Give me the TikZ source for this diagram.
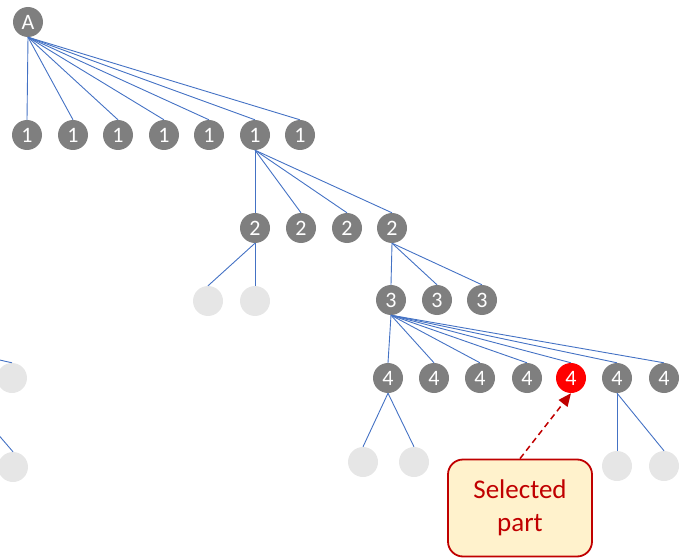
\documentclass[tikz,border=0pt]{standalone}
\usepackage{fontspec}
\setmainfont{Carlito}
\usetikzlibrary{arrows.meta}
\definecolor{edgeblue}{HTML}{4472C4}
\definecolor{nodegray}{HTML}{7F7F7F}
\definecolor{ghostgray}{HTML}{E6E6E6}
\definecolor{calloutred}{HTML}{C00000}
\definecolor{calloutfill}{HTML}{FFF2CC}
\tikzset{
  tnode/.style={circle, fill=nodegray, minimum size=30pt, inner sep=0pt,
    text=white, font=\fontsize{22}{22}\selectfont},
  selnode/.style={tnode, fill=red},
  ghost/.style={circle, fill=ghostgray, minimum size=30pt, inner sep=0pt},
  link/.style={draw=edgeblue, line width=0.9pt},
  callout/.style={draw=calloutred, fill=calloutfill, line width=1.8pt,
    rounded corners=15pt, minimum width=144pt, minimum height=97pt,
    align=center, text=calloutred, font=\fontsize{27}{33}\selectfont},
  callarrow/.style={draw=calloutred, line width=1.5pt, dash pattern=on 6pt off 4pt,
    -{Triangle[length=13pt,width=11pt]}},
}
\begin{document}
\begin{tikzpicture}[x=1pt,y=-1pt]
\useasboundingbox (0,0) rectangle (691,559);
\clip (0,0) rectangle (691,559);

% root
\node[tnode] (A) at (28,22) {A};

% level 1
\foreach \i/\x in {1/27,2/73,3/118,4/164,5/209,6/255,7/300}
  \node[tnode] (a\i) at (\x,135) {1};
% level 2
\foreach \i/\x in {1/255,2/301,3/347,4/392}
  \node[tnode] (b\i) at (\x,228) {2};
\node[ghost] (g1) at (208,301) {};
\node[ghost] (g2) at (255,301) {};
% level 3
\foreach \i/\x in {1/391,2/437,3/482}
  \node[tnode] (c\i) at (\x,300) {3};
% level 4
\foreach \i/\x in {1/388,2/434,3/480,4/527,6/617,7/664}
  \node[tnode] (d\i) at (\x,378) {4};
\node[selnode] (d5) at (571,378) {4};
\node[ghost] (h1) at (363,462) {};
\node[ghost] (h2) at (414,462) {};
\node[ghost] (h3) at (617,466) {};
\node[ghost] (h4) at (664,466) {};

% branches entering from the left
\node[ghost] (l1) at (12,378) {};
\node[ghost] (l2) at (13,467) {};
\coordinate (lp1) at (-40,351);
\coordinate (lp2) at (-40,390);

% edges
\foreach \i in {1,...,7} \draw[link] (A.south) -- (a\i.north);
\foreach \i in {1,...,4} \draw[link] (a6.south) -- (b\i.north);
\draw[link] (b1.south) -- (g1.north);
\draw[link] (b1.south) -- (g2.north);
\foreach \i in {1,...,3} \draw[link] (b4.south) -- (c\i.north);
\foreach \i in {1,...,7} \draw[link] (c1.south) -- (d\i.north);
\draw[link] (d1.south) -- (h1.north);
\draw[link] (d1.south) -- (h2.north);
\draw[link] (d6.south) -- (h3.north);
\draw[link] (d6.south) -- (h4.north);
\draw[link] (lp1) -- (l1.north);
\draw[link] (lp2) -- (l2.north);

% callout
\node[callout] (sel) at (520,508) {Selected\\part};
\draw[callarrow] (sel.north) -- (d5.south);
\end{tikzpicture}
\end{document}
